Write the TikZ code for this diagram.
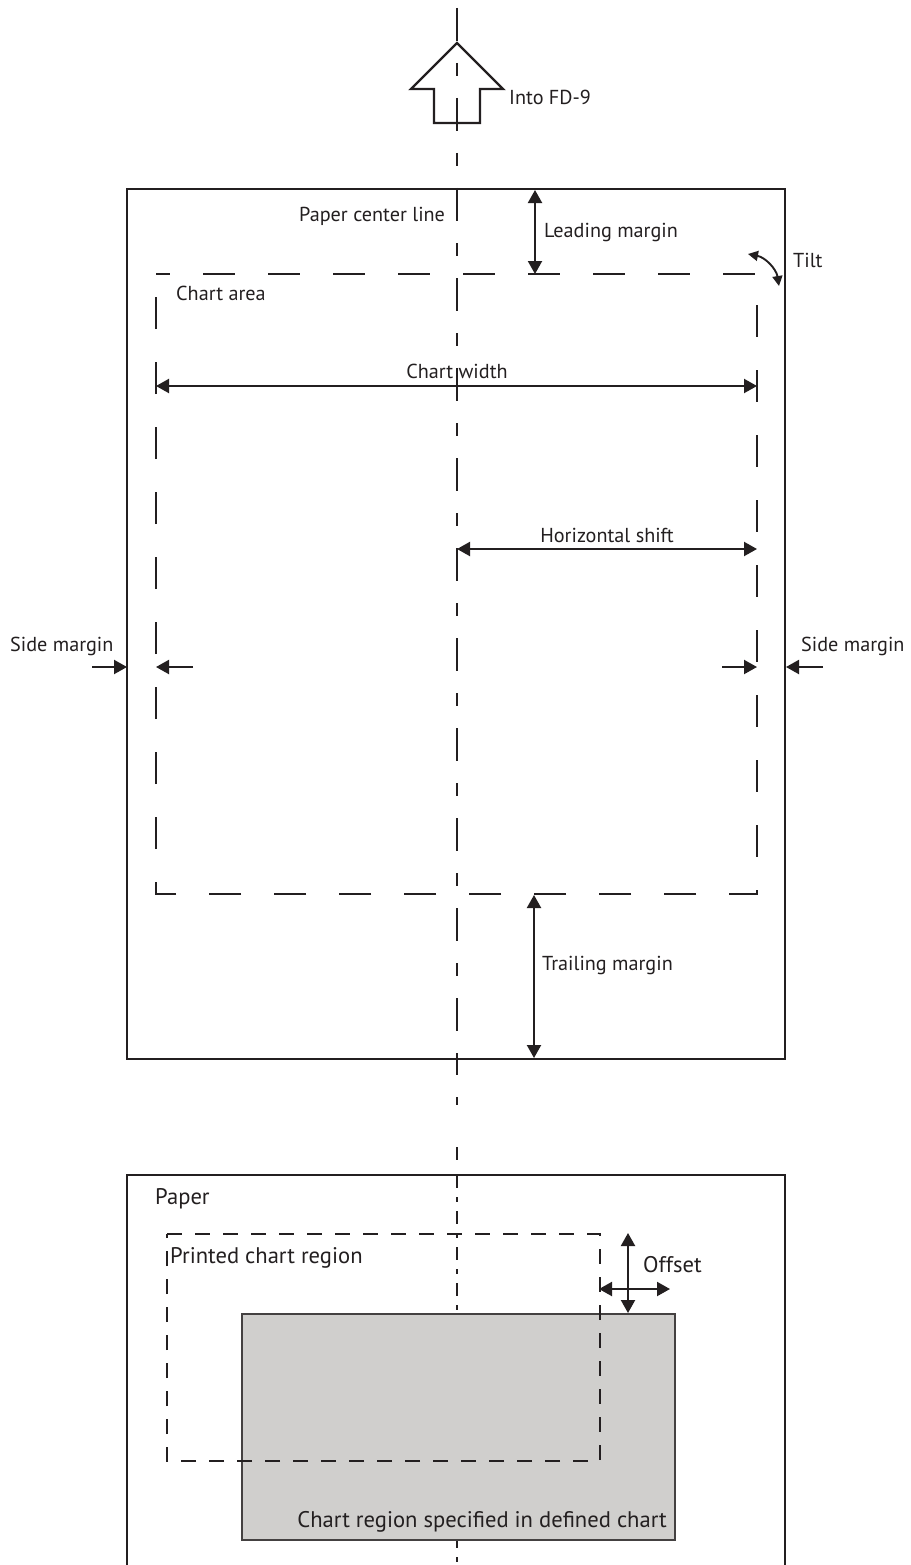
\documentclass[tikz,border=0pt]{standalone}
\usepackage{fontspec}
\setmainfont{PT Sans}
\usetikzlibrary{arrows.meta}
\definecolor{ink}{RGB}{35,31,32}
\definecolor{chartgray}{RGB}{208,207,205}
\begin{document}
\begin{tikzpicture}[x=1pt,y=-1pt,
  edge/.style={line width=2.3pt,draw=ink},
  cline/.style={line width=2.3pt,draw=ink,dash pattern=on 33pt off 22pt on 13pt off 22pt},
  thincline/.style={line width=1.2pt,draw=ink,dash pattern=on 13pt off 9pt on 5pt off 9pt},
  chartdash/.style={line width=2.3pt,draw=ink,dash pattern=on 32pt off 33pt,dash phase=18pt},
  printdash/.style={line width=1.3pt,draw=ink,dash pattern=on 15pt off 13pt},
  head/.tip={Triangle[length=13pt,width=14pt]},
  dimto/.style={line width=2.1pt,draw=ink,-head},
  dimboth/.style={line width=2.1pt,draw=ink,head-head},
  lbl/.style={font=\fontsize{20.2}{23}\selectfont,text=ink,inner sep=0pt,anchor=base west},
  lblb/.style={font=\fontsize{22.6}{26}\selectfont,text=ink,inner sep=0pt,anchor=base west}]
\useasboundingbox (0,0) rectangle (910,1565);
\fill[white] (0,0) rectangle (910,1565);

% centre line
\coordinate (c0) at (457,8);
\coordinate (c1) at (457,1059);
\draw[cline] (c0) -- (c1);
\draw[edge] (457,1060) -- (457,1075);
\draw[edge] (457,1097) -- (457,1105);
\draw[edge] (457,1147) -- (457,1160);
\coordinate (c2) at (457,1175);
\coordinate (c3) at (457,1565);
\draw[thincline] (c2) -- (c3);

% feed arrow
\draw[edge,line join=miter] (457,43) -- (503,89) -- (480,89) -- (480,123) -- (434,123) -- (434,89) -- (411,89) -- cycle;
\node[lbl] (into) at (509,104.3) {Into FD-9};

% paper (top)
\coordinate (pTL) at (127,189);
\coordinate (pBR) at (785,1059);
\draw[edge] (pTL) rectangle (pBR);

% chart area
\draw[chartdash] (156,274) -- (757,274) -- (757,894) -- (156,894) -- cycle;

\node[lbl] (pcl) at (299,221.7) {Paper center line};
\node[lbl] (lead) at (544,237.3) {Leading margin};
\node[lbl] (tilt) at (793,267.7) {Tilt};
\node[lbl] (ca) at (176,300) {Chart area};
\node[lbl,anchor=base] (cw) at (457,378.3) {Chart width};
\node[lbl,anchor=base] (hs) at (607,542.7) {Horizontal shift};
\node[lbl] (sml) at (10,651.7) {Side margin};
\node[lbl] (smr) at (801,651.7) {Side margin};
\node[lbl] (tm) at (542,970.7) {Trailing margin};

% leading margin
\coordinate (lmA) at (535,190);
\coordinate (lmB) at (535,274);
\draw[dimboth] (lmA) -- (lmB);

% tilt
\coordinate (tA) at (748,254);
\coordinate (tB) at (779,286);
\draw[line width=1.9pt,draw=ink,{Triangle[length=10pt,width=10pt]}-{Triangle[length=10pt,width=10pt]}] (tA) to[bend left=35] (tB);

% chart width
\coordinate (cwA) at (156,386);
\coordinate (cwB) at (757,386);
\draw[dimboth] (cwA) -- (cwB);

% horizontal shift
\coordinate (hsA) at (457,549);
\coordinate (hsB) at (757,549);
\draw[dimboth] (hsA) -- (hsB);

% side margins
\coordinate (sl1) at (92,667);  \coordinate (sl2) at (127,667);
\coordinate (sl3) at (193,667); \coordinate (sl4) at (156,667);
\coordinate (sr1) at (722,667); \coordinate (sr2) at (757,667);
\coordinate (sr3) at (823,667); \coordinate (sr4) at (786,667);
\draw[dimto] (sl1) -- (sl2);
\draw[dimto] (sl3) -- (sl4);
\draw[dimto] (sr1) -- (sr2);
\draw[dimto] (sr3) -- (sr4);

% trailing margin
\coordinate (tmA) at (534,895);
\coordinate (tmB) at (534,1058);
\draw[dimboth] (tmA) -- (tmB);

% paper (bottom)
\draw[edge] (127,1565) -- (127,1175) -- (785,1175) -- (785,1565);
\node[lblb] (paper) at (155,1204) {Paper};

% chart region specified
\draw[fill=chartgray,draw=ink!85,line width=1.5pt] (242,1314) rectangle (675,1540);
\node[lblb,anchor=base east] (crs) at (667,1527.7) {Chart region specified in defined chart};

% printed chart region
\draw[printdash] (167,1234) -- (600,1234) -- (600,1461) -- (167,1461) -- cycle;
\node[lblb] (pcr) at (170,1263.3) {Printed chart region};

% offset
\coordinate (oA) at (628,1233);
\coordinate (oB) at (628,1313);
\coordinate (oC) at (599,1289);
\coordinate (oD) at (670,1289);
\draw[dimboth] (oA) -- (oB);
\draw[dimboth] (oC) -- (oD);
\node[lblb] (off) at (643,1272.7) {Offset};
\end{tikzpicture}
\end{document}
